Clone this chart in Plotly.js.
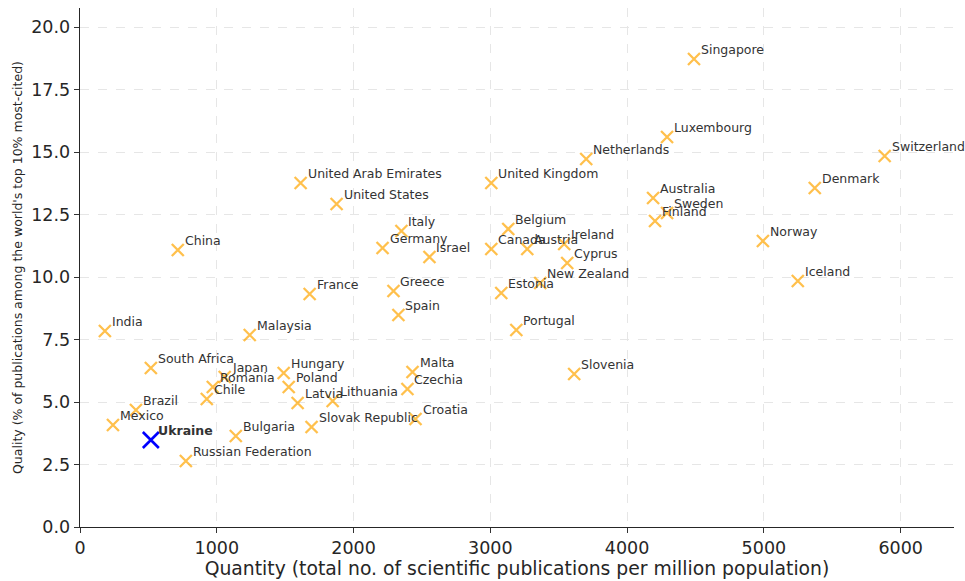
<!DOCTYPE html>
<html>
<head>
<meta charset="utf-8">
<script src="https://cdn.plot.ly/plotly-3.0.1.min.js"></script>
<style>html,body{margin:0;padding:0;background:#fff;}#chart{width:965px;height:581px;}</style>
</head>
<body>
<div id="chart"></div>
<script>
const countries = ["India","China","South Africa","Brazil","Mexico","Russian Federation","Japan","Romania","Chile","Malaysia","Bulgaria","Hungary","Poland","Latvia","Lithuania","Slovak Republic","Malta","Czechia","Croatia","Spain","France","United Arab Emirates","United States","Germany","Italy","Greece","Israel","Canada","United Kingdom","Belgium","Austria","Ireland","Cyprus","New Zealand","Estonia","Portugal","Slovenia","Netherlands","Singapore","Luxembourg","Australia","Sweden","Finland","Norway","Iceland","Denmark","Switzerland"];
const quantity = [182,715,518,409,241,774,1058,971,927,1241,1139,1489,1526,1591,1847,1693,2431,2394,2453,2328,1679,1613,1876,2212,2350,2292,2555,3007,3007,3131,3270,3540,3562,3365,3080,3190,3613,3701,4489,4292,4190,4292,4204,4993,5248,5372,5883];
const quality = [7.84,11.08,6.36,4.68,4.08,2.64,6.0,5.6,5.12,7.68,3.64,6.16,5.6,4.96,5.04,4.0,6.2,5.52,4.32,8.48,9.32,13.76,12.92,11.16,11.84,9.44,10.8,11.12,13.76,11.92,11.12,11.32,10.56,9.76,9.36,7.88,6.12,14.72,18.72,15.6,13.16,12.56,12.24,11.44,9.84,13.56,14.84];
const ukraineName = "Ukraine";
const ukraineQuantity = [518];
const ukraineQuality = [3.48];

const font = "DejaVu Sans, sans-serif";

const traces = [
  {x: quantity, y: quality, type: "scatter", mode: "markers",
   marker: {symbol: "x-thin", size: 12, line: {width: 2.3, color: "rgba(255,165,0,0.7)"}, color: "rgba(255,165,0,0.7)"},
   hoverinfo: "skip"},
  {x: ukraineQuantity, y: ukraineQuality, type: "scatter", mode: "markers",
   marker: {symbol: "x-thin", size: 16, line: {width: 2.6, color: "#0000ff"}, color: "#0000ff"},
   hoverinfo: "skip"}
];

const annotations = countries.map((c, i) => ({
  x: quantity[i], y: quality[i], xref: "x", yref: "y", text: c, showarrow: false,
  xanchor: "left", yanchor: "bottom", xshift: 5, yshift: 0,
  font: {family: font, size: 12.5, color: "#333333"}
}));
annotations.push({
  x: ukraineQuantity[0], y: ukraineQuality[0], xref: "x", yref: "y", text: "<b>" + ukraineName + "</b>",
  showarrow: false, xanchor: "left", yanchor: "bottom", xshift: 5, yshift: 0,
  font: {family: font, size: 12.5, color: "#333333"}
});

const layout = {
  width: 965, height: 581,
  margin: {l: 80, r: 11, t: 8, b: 54},
  paper_bgcolor: "#ffffff", plot_bgcolor: "#ffffff",
  showlegend: false,
  font: {family: font, color: "#262626"},
  xaxis: {
    range: [0, 6390], tickvals: [0,1000,2000,3000,4000,5000,6000],
    ticks: "outside", ticklen: 5, tickcolor: "#333", showline: true, linecolor: "#262626", linewidth: 1.3,
    showgrid: true, gridcolor: "#e6e6e6", griddash: "dash", gridwidth: 1, zeroline: false,
    tickfont: {size: 17.5, family: font, color: "#262626"},
    title: {text: "Quantity (total no. of scientific publications per million population)", font: {size: 18.8, family: font, color: "#262626"}, standoff: 3}
  },
  yaxis: {
    range: [0, 20.76], tickvals: [0,2.5,5,7.5,10,12.5,15,17.5,20],
    ticktext: ["0.0","2.5","5.0","7.5","10.0","12.5","15.0","17.5","20.0"],
    ticks: "outside", ticklen: 5, tickcolor: "#333", showline: true, linecolor: "#262626", linewidth: 1.3,
    showgrid: true, gridcolor: "#e6e6e6", griddash: "dash", gridwidth: 1, zeroline: false,
    tickfont: {size: 17.5, family: font, color: "#262626"},
    title: {text: "Quality (% of publications among the world's top 10% most-cited)", font: {size: 12.5, family: font, color: "#262626"}, standoff: 6}
  },
  annotations: annotations
};

Plotly.newPlot("chart", traces, layout, {staticPlot: true, displayModeBar: false});
</script>
</body>
</html>
